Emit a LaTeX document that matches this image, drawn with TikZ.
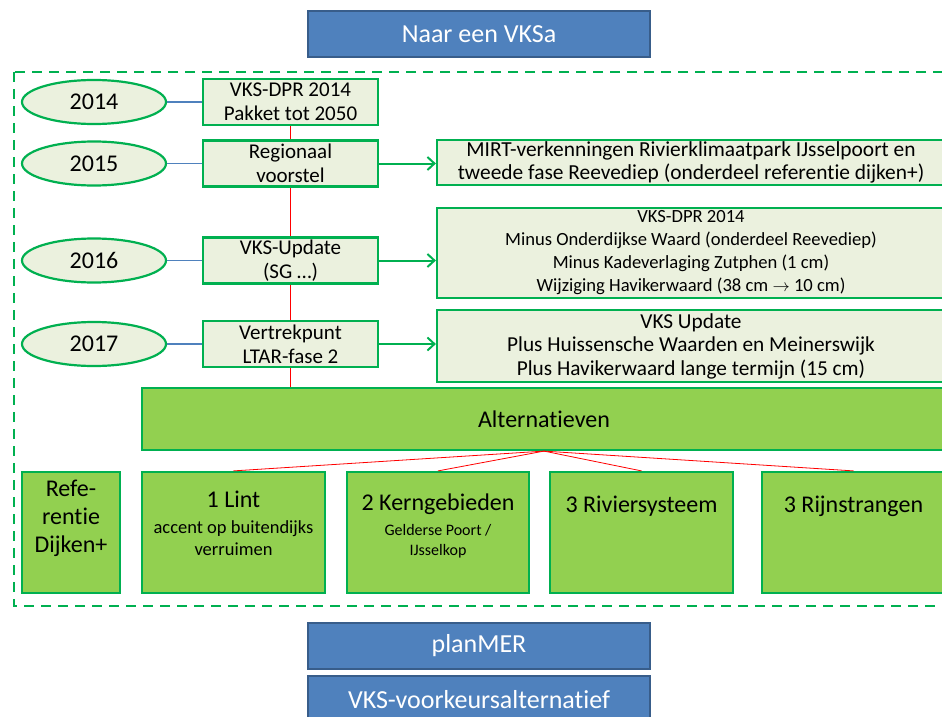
\documentclass[tikz,border=0pt]{standalone}
\usepackage{fontspec}
\setmainfont{Carlito}[Ligatures=NoCommon]
\usetikzlibrary{positioning,shapes.geometric,arrows.meta}
\definecolor{kadergroen}{HTML}{00B050}
\definecolor{lichtgroen}{HTML}{EBF1DE}
\definecolor{altgroen}{HTML}{92D050}
\definecolor{vlakblauw}{HTML}{4F81BD}
\definecolor{randblauw}{HTML}{385D8A}
\newcommand{\groot}{\fontsize{24}{28}\selectfont}
\newcommand{\klein}{\fontsize{18.5}{23}\selectfont}
\tikzset{
  jaar/.style={draw=kadergroen, line width=2.2pt, ellipse, fill=lichtgroen,
    minimum width=144pt, minimum height=44pt, font=\fontsize{24}{28}\selectfont},
  stapvak/.style={draw=kadergroen, line width=2.2pt, fill=lichtgroen, inner sep=0pt,
    minimum width=175pt, minimum height=46pt, align=center, font=\fontsize{21}{24}\selectfont},
  inhoud/.style={draw=kadergroen, line width=2.2pt, fill=lichtgroen, inner sep=0pt,
    minimum width=508pt, align=center},
  altvak/.style={draw=kadergroen, line width=2.2pt, fill=altgroen, inner sep=0pt},
  alttekst/.style={align=center, inner sep=0pt},
  blauwvak/.style={draw=randblauw, line width=1.5pt, fill=vlakblauw, text=white,
    minimum width=342pt, minimum height=46pt, font=\fontsize{26}{30}\selectfont},
  tijdlijn/.style={red, line width=0.8pt},
  koppel/.style={draw=vlakblauw, line width=1.3pt},
  pijl/.style={kadergroen, line width=2pt, -{Straight Barb[length=7pt,width=13pt]}}
}
\begin{document}
\begin{tikzpicture}[x=1pt,y=-1pt]
\useasboundingbox (0,0) rectangle (942,717);
\clip (0,0) rectangle (942,717);
\fill[white] (0,0) rectangle (942,717);

% kader
\draw[kadergroen, line width=2.5pt, dash pattern=on 10pt off 7pt] (14,72) rectangle (990,606);

\node[blauwvak] (vksa) at (479,34) {Naar een VKSa};

% jaren
\node[jaar] (j2014) at (94,102) {2014};
\node[jaar] (j2015) at (94,163.5) {2015};
\node[jaar] (j2016) at (94,260.5) {2016};
\node[jaar] (j2017) at (94,344) {2017};

% stappen
\node[stapvak] (dpr) at (290.5,102) {VKS-DPR 2014\\Pakket tot 2050};
\node[stapvak] (regio) at (290.5,163.5) {Regionaal\\voorstel};
\node[stapvak] (update) at (290.5,260.5) {VKS-Update\\(SG \dots)};
\node[stapvak] (vertrek) at (290.5,344) {Vertrekpunt\\LTAR-fase 2};

% inhoud
\node[inhoud, minimum height=45pt, font=\fontsize{21.4}{23}\selectfont] (mirt) at (691,162.5)
  {MIRT-verkenningen Rivierklimaatpark IJsselpoort en\\tweede fase Reevediep (onderdeel referentie dijken+)};
\node[inhoud, minimum height=90pt, font=\fontsize{18.6}{23}\selectfont] (dpr-inh) at (691,253)
  {VKS-DPR 2014\\Minus Onderdijkse Waard (onderdeel Reevediep)\\Minus Kadeverlaging Zutphen (1 cm)\\Wijziging Havikerwaard (38 cm $\rightarrow$ 10 cm)};
\node[inhoud, minimum height=72pt, font=\fontsize{21.3}{23.5}\selectfont] (upd-inh) at (691,346)
  {VKS Update\\Plus Huissensche Waarden en Meinerswijk\\Plus Havikerwaard lange termijn (15 cm)};

% alternatieven
\node[altvak, minimum width=804pt, minimum height=62pt, font=\groot] (alt) at (544,419) {Alternatieven};
\node[altvak, minimum width=98pt, minimum height=121pt] (refe) at (71,532.5) {};
\node[altvak, minimum width=183pt, minimum height=121pt] (lint) at (233.5,532.5) {};
\node[altvak, minimum width=182pt, minimum height=121pt] (kern) at (438,532.5) {};
\node[altvak, minimum width=183pt, minimum height=121pt] (rivier) at (641.5,532.5) {};
\node[altvak, minimum width=183pt, minimum height=121pt] (rijn) at (853.5,532.5) {};

\node[alttekst, below=9pt of refe.north, font=\groot] (refe-t) {Refe-\\rentie\\Dijken+};
\node[alttekst, below=20pt of lint.north, font=\klein] (lint-t)
  {\groot 1 Lint\\[3pt]\klein accent op buitendijks\\[-1pt]\klein verruimen};
\node[alttekst, below=23pt of kern.north, font=\fontsize{16}{20}\selectfont] (kern-t)
  {\groot 2 Kerngebieden\\[5pt]Gelderse Poort /\\IJsselkop};
\node[alttekst, below=25pt of rivier.north, font=\groot] (rivier-t) {3 Riviersysteem};
\node[alttekst, below=25pt of rijn.north, font=\groot] (rijn-t) {3 Rijnstrangen};

\node[blauwvak] (planmer) at (479,646) {planMER};
\node[blauwvak, minimum height=48pt] (vka) at (479,700) {VKS-voorkeursalternatief};

% verbindingen
\foreach \j/\s in {j2014/dpr, j2015/regio, j2016/update, j2017/vertrek}
  \draw[koppel] (\j.east) -- (\s.west);
\draw[tijdlijn] (dpr.south) -- (regio.north);
\draw[tijdlijn] (regio.south) -- (update.north);
\draw[tijdlijn] (update.south) -- (vertrek.north);
\draw[tijdlijn] (vertrek.south) -- (vertrek.south |- alt.north);
\foreach \b in {lint, kern, rivier, rijn}
  \draw[tijdlijn] (alt.south) -- (\b.north);

\draw[pijl] (regio.east) -- (regio.east -| mirt.west);
\draw[pijl] (update.east) -- (update.east -| dpr-inh.west);
\draw[pijl] (vertrek.east) -- (vertrek.east -| upd-inh.west);
\end{tikzpicture}
\end{document}
